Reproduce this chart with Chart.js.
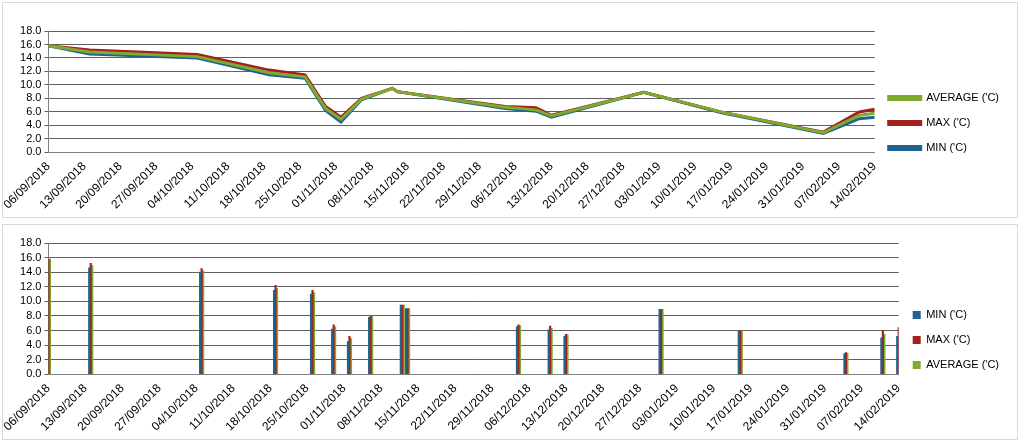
<!DOCTYPE html>
<html>
<head>
<meta charset="utf-8">
<script src="https://cdn.jsdelivr.net/npm/chart.js@4.4.1/dist/chart.umd.min.js"></script>
<style>
body { margin: 0; background: #fff; }
.box { position: absolute; left: 2px; width: 1016px; height: 216px; border: 1px solid #d9d9d9; box-sizing: border-box; }
#b1 { top: 2px; }
#b2 { top: 224px; }
</style>
</head>
<body>
<div class="box" id="b1"><canvas id="lineChart"></canvas></div>
<div class="box" id="b2"><canvas id="barChart"></canvas></div>
<script>
// days since 06/09/2018
let days = [0, 8, 29, 43, 50, 54, 57, 61, 67, 68, 89, 95, 98, 116, 131, 151, 158, 161];
let minTemp = [15.8, 14.6, 14.0, 11.5, 11.0, 6.2, 4.5, 7.8, 9.5, 9.0, 6.5, 6.1, 5.2, 8.9, 5.9, 2.8, 5.0, 5.2];
let maxTemp = [15.8, 15.2, 14.5, 12.2, 11.5, 6.8, 5.2, 8.0, 9.5, 9.0, 6.8, 6.6, 5.5, 8.9, 6.0, 3.0, 6.0, 6.4];
let avgTemp = [15.8, 14.9, 14.2, 11.8, 11.2, 6.5, 4.9, 7.9, 9.5, 9.0, 6.7, 6.3, 5.4, 8.9, 6.0, 2.9, 5.5, 5.8];
let seriesNames = ["MIN ('C)", "MAX ('C)", "AVERAGE ('C)"];
let colors = ["#1f6391", "#a4201c", "#80aa2e"];

let startDate = new Date(2018, 8, 6);
function dayLabel(d) {
    let dt = new Date(startDate.getTime() + d * 86400000);
    let dd = String(dt.getDate()).padStart(2, '0');
    let mm = String(dt.getMonth() + 1).padStart(2, '0');
    return dd + '/' + mm + '/' + dt.getFullYear();
}
function points(vals) {
    return vals.map(function (v, i) { return {x: days[i], y: v}; });
}

Chart.defaults.font.family = "'Liberation Sans', Arial, sans-serif";
Chart.defaults.font.size = 12;
Chart.defaults.color = '#000';
Chart.defaults.animation = false;

function scales() {
    return {
        x: {
            type: 'linear', min: 0, max: 161, offset: false,
            afterBuildTicks: function (axis) {
                let t = [];
                for (let d = 0; d <= 161; d += 7) t.push({value: d});
                axis.ticks = t;
            },
            ticks: {autoSkip: false, maxRotation: 45, minRotation: 45, callback: function (v) { return dayLabel(v); }},
            grid: {display: false, drawOnChartArea: false, drawTicks: true, tickLength: 4, color: '#808080'},
            border: {color: '#808080'}
        },
        y: {
            min: 0, max: 18,
            afterBuildTicks: function (axis) {
                let t = [];
                for (let v = 0; v <= 18; v += 2) t.push({value: v});
                axis.ticks = t;
            },
            ticks: {autoSkip: false, callback: function (v) { return v.toFixed(1); }, padding: 3, font: {size: 11}},
            grid: {color: '#606060', tickLength: 4},
            border: {color: '#808080'}
        }
    };
}

function legendOpts(box) {
    return {
        position: 'right',
        labels: {boxWidth: box[0], boxHeight: box[1], padding: 14, font: {size: 11}}
    };
}

new Chart(document.getElementById('lineChart'), {
    type: 'line',
    data: {
        datasets: [minTemp, maxTemp, avgTemp].map(function (s, i) {
            return {label: seriesNames[i], data: points(s), borderColor: colors[i], backgroundColor: colors[i],
                borderWidth: 3, pointRadius: 0, tension: 0, order: 3 - i};
        })
    },
    options: {
        responsive: true, maintainAspectRatio: false,
        layout: {padding: {top: 28, right: 8, left: 8, bottom: 2}},
        plugins: {legend: legendOpts([32, 3]), tooltip: {enabled: false}},
        scales: scales()
    }
});

new Chart(document.getElementById('barChart'), {
    type: 'bar',
    data: {
        datasets: [minTemp, maxTemp, avgTemp].map(function (s, i) {
            return {label: seriesNames[i], data: points(s), backgroundColor: colors[i], barThickness: 1.5};
        })
    },
    options: {
        responsive: true, maintainAspectRatio: false,
        layout: {padding: {top: 18, right: 8, left: 8, bottom: 2}},
        plugins: {legend: legendOpts([8, 8]), tooltip: {enabled: false}},
        scales: scales()
    }
});
</script>
</body>
</html>
